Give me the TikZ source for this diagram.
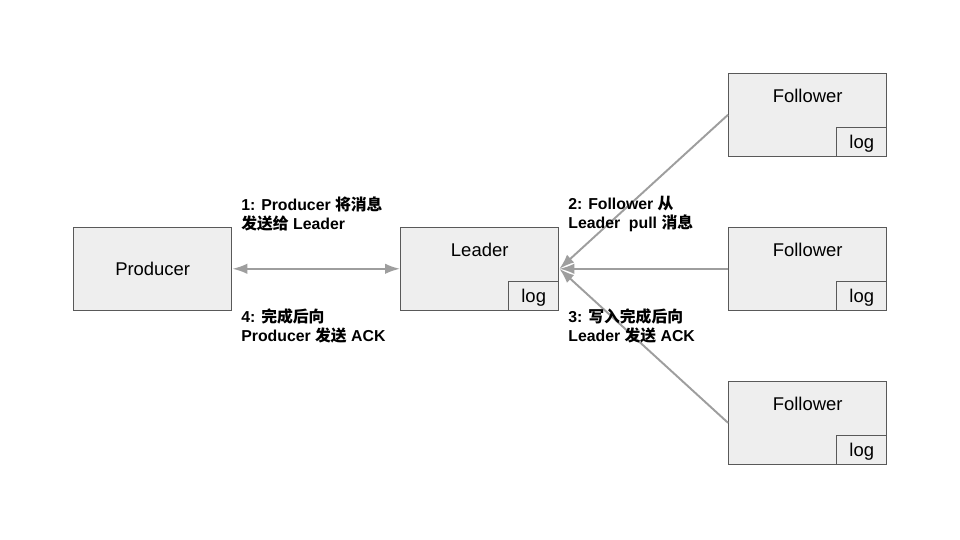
\documentclass[tikz,border=0pt]{standalone}
\usepackage{fontspec}
\setmainfont{Liberation Sans}
\newfontfamily\cjk{Noto Sans CJK SC}
\newcommand\zh[1]{{\cjk #1}}
\usepackage{tikz}
\usetikzlibrary{calc}
\usetikzlibrary{positioning}
\usetikzlibrary{arrows.meta}
\definecolor{boxfill}{HTML}{EEEEEE}
\definecolor{boxline}{HTML}{595959}
\definecolor{arrowgray}{HTML}{9E9E9E}

\begin{document}
\begin{tikzpicture}[
	box/.style={rectangle, draw=boxline, thick, fill=boxfill, minimum height=\bh, minimum width=3.16cm, text depth=0pt, anchor=south west, font=\fontsize{10.5}{12}\selectfont},
	logbox/.style={rectangle, draw=boxline, thick, fill=boxfill, minimum height=0.58cm, minimum width=1cm, text depth=0pt, anchor=south east, font=\fontsize{10.5}{12}\selectfont},
	toptext/.style={anchor=north, yshift=-0.21cm, font=\fontsize{10.5}{12}\selectfont},
	steptext/.style={anchor=west, inner sep=0pt, align=left, font=\fontsize{9}{11.3}\selectfont\bfseries},
	link/.style={draw=arrowgray, line width=1.1pt},
	>={Latex[length=0.3cm, width=0.21cm]}]

\newcommand\bh{1.66cm}

\fill[white] (0,0) rectangle (19.2,10.8);
\useasboundingbox (0,0) rectangle (19.2,10.8);

\node at (1.46,4.58) [box] (producer) {Producer};
\node at (8.0,4.58) [box, label={[toptext]north:Leader}] (leader) {};
\node at (leader.south east) [logbox] (leaderlog) {log};

\node at (14.56,7.66) [box, label={[toptext]north:Follower}] (follow1) {};
\node at (follow1.south east) [logbox] (follow1log) {log};
\node at (14.56,4.58) [box, label={[toptext]north:Follower}] (follow2) {};
\node at (follow2.south east) [logbox] (follow2log) {log};
\node at (14.56,1.5) [box, label={[toptext]north:Follower}] (follow3) {};
\node at (follow3.south east) [logbox] (follow3log) {log};

\draw[link, <->] (producer.east) -- (leader.west);
\draw[link, ->] (follow1.west) -- (leader.east);
\draw[link, ->] (follow2.west) -- (leader.east);
\draw[link, ->] (follow3.west) -- (leader.east);

\node at (4.82,6.52) [steptext] (step1) {1: Producer \zh{将消息}\\\zh{发送给} Leader};
\node at (4.82,4.28) [steptext] (step4) {4: \zh{完成后向}\\Producer \zh{发送} ACK};
\node at (11.36,6.52) [steptext] (step2) {2: Follower \zh{从}\\Leader~ pull \zh{消息}};
\node at (11.36,4.28) [steptext] (step3) {3: \zh{写入完成后向}\\Leader \zh{发送} ACK};

\end{tikzpicture}
\end{document}
